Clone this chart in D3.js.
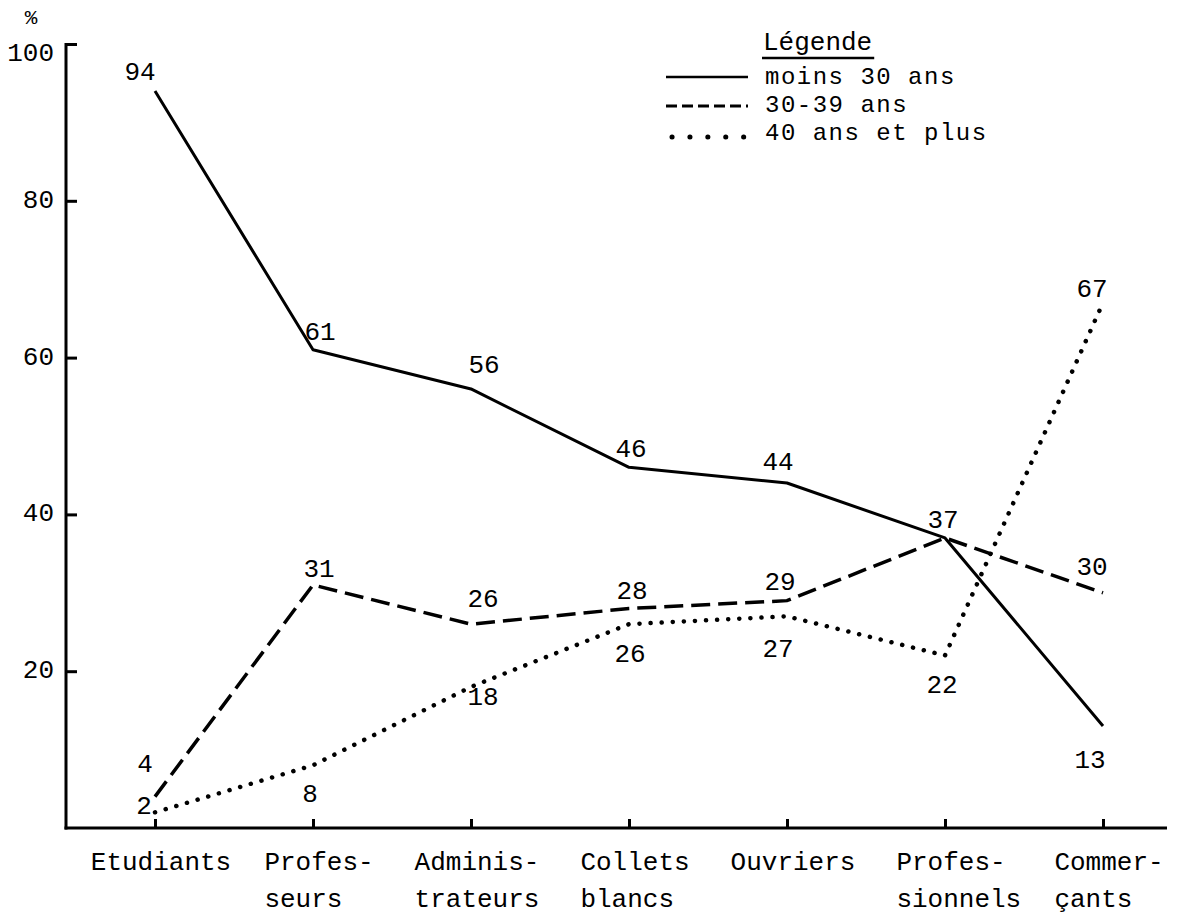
<!DOCTYPE html>
<html>
<head>
<meta charset="utf-8">
<script src="https://cdn.jsdelivr.net/npm/d3@7"></script>
<style>
  html, body { margin: 0; padding: 0; background: #ffffff; }
  svg text { font-family: "Liberation Mono", "Courier New", monospace; fill: #000; }
</style>
</head>
<body>
<svg id="chart" width="1179" height="920"></svg>
<script>
// ---- data ----
const categories = ["Etudiants", "Professeurs", "Administrateurs", "Collets blancs", "Ouvriers", "Professionnels", "Commerçants"];
const categoryLines = [["Etudiants"], ["Profes-", "seurs"], ["Adminis-", "trateurs"], ["Collets", "blancs"], ["Ouvriers"], ["Profes-", "sionnels"], ["Commer-", "çants"]];
const moins30 = [94, 61, 56, 46, 44, 37, 13];
const ans30_39 = [4, 31, 26, 28, 29, 37, 30];
const ans40plus = [2, 8, 18, 26, 27, 22, 67];
const yTicks = [20, 40, 60, 80, 100];
const seriesNames = ["moins 30 ans", "30-39 ans", "40 ans et plus"];

// label placement (offsets from each point, in px) — layout only
const labelOffMoins30 = [[-15, -11], [7, -10], [13, -16], [2, -10], [-9, -13], [-2, -10], [-13, 42]];
const labelOff30_39 = [[-10, -25], [6, -8], [12, -17], [3, -9], [-7, -11], null, [-11, -18]];
const labelOff40plus = [[-11, 2], [-3, 37], [12, 18], [1, 38], [-9, 41], [-3, 37], [-11, -6]];

// ---- setup ----
const svg = d3.select("#chart");
const FS = 26;
const x = d3.scalePoint().domain(categories).range([155, 1103]);
const y = d3.scaleLinear().domain([0, 100]).range([828, 44]);
const axisX0 = 66, axisXEnd = 1167;

// ---- Y axis ----
const yAxis = d3.axisLeft(y).tickValues(yTicks).tickSizeInner(-11).tickSizeOuter(0).tickPadding(12);
const gy = svg.append("g").attr("transform", `translate(${axisX0},0)`).call(yAxis);
gy.select(".domain").remove();
gy.selectAll(".tick line").attr("stroke", "#000").attr("stroke-width", 3);
gy.selectAll(".tick text").attr("font-size", FS).attr("font-family", "Liberation Mono, monospace").attr("fill", "#000")
  .attr("dy", d => d === 100 ? "0.65em" : "0.25em");
svg.append("line").attr("x1", axisX0).attr("x2", axisX0).attr("y1", y(100) - 1).attr("y2", y(0) + 1.5)
  .attr("stroke", "#000").attr("stroke-width", 3);
svg.append("text").attr("x", 31).attr("y", 24).attr("text-anchor", "middle").attr("font-size", FS - 5).text("%");

// ---- X axis ----
const xAxis = d3.axisBottom(x).tickSizeInner(-9).tickSizeOuter(0).tickFormat("");
const gx = svg.append("g").attr("transform", `translate(0,${y(0)})`).call(xAxis);
gx.select(".domain").remove();
gx.selectAll(".tick line").attr("stroke", "#000").attr("stroke-width", 3);
svg.append("line").attr("x1", axisX0 - 1.5).attr("x2", axisXEnd).attr("y1", y(0)).attr("y2", y(0))
  .attr("stroke", "#000").attr("stroke-width", 3);

// category labels: first line roughly centred on tick, second line left-aligned with first
categoryLines.forEach((lines, i) => {
  const t = svg.append("text").attr("font-size", FS).attr("y", 870);
  const first = t.append("tspan").text(lines[0]);
  const w = first.node().getComputedTextLength();
  const x0 = x(categories[i]) - w / 2 + 6;
  t.attr("x", x0);
  first.attr("x", x0);
  if (lines[1]) t.append("tspan").attr("x", x0).attr("dy", 37).text(lines[1]);
});

// ---- series lines ----
const line = d3.line().x((d, i) => x(categories[i])).y(d => y(d));
svg.append("path").datum(moins30).attr("d", line)
  .attr("fill", "none").attr("stroke", "#000").attr("stroke-width", 3).attr("stroke-linejoin", "round");
svg.append("path").datum(ans30_39).attr("d", line)
  .attr("fill", "none").attr("stroke", "#000").attr("stroke-width", 3.5).attr("stroke-dasharray", "19 8");
svg.append("path").datum(ans40plus).attr("d", line)
  .attr("fill", "none").attr("stroke", "#000").attr("stroke-width", 4.5)
  .attr("stroke-linecap", "round").attr("stroke-dasharray", "0.1 11");

// ---- value labels ----
function addLabels(values, offs) {
  values.forEach((v, i) => {
    if (!offs[i]) return;
    svg.append("text")
      .attr("x", x(categories[i]) + offs[i][0])
      .attr("y", y(v) + offs[i][1])
      .attr("text-anchor", "middle")
      .attr("font-size", FS)
      .text(v);
  });
}
addLabels(moins30, labelOffMoins30);
addLabels(ans30_39, labelOff30_39);
addLabels(ans40plus, labelOff40plus);

// ---- legend ----
const LFS = 24;
const lg = svg.append("g");
const leg = lg.append("text").attr("x", 763).attr("y", 50).attr("font-size", FS).text("Légende");
const lw = leg.node().getComputedTextLength();
lg.append("line").attr("x1", 762).attr("x2", 763 + lw + 2).attr("y1", 58).attr("y2", 58)
  .attr("stroke", "#000").attr("stroke-width", 2.5);

const legendRows = [
  { name: seriesNames[0], base: 84, ly: 77, dash: null, w: 2.5, cap: "butt", x1: 666 },
  { name: seriesNames[1], base: 112, ly: 106, dash: "11 5", w: 3, cap: "butt", x1: 666 },
  { name: seriesNames[2], base: 140, ly: 137, dash: "0.1 17.8", w: 5, cap: "round", x1: 672 }
];
legendRows.forEach(r => {
  const l = lg.append("line").attr("x1", r.x1).attr("x2", 748)
    .attr("y1", r.ly).attr("y2", r.ly)
    .attr("stroke", "#000").attr("stroke-width", r.w).attr("stroke-linecap", r.cap);
  if (r.dash) l.attr("stroke-dasharray", r.dash);
  lg.append("text").attr("x", 765).attr("y", r.base).attr("font-size", LFS)
    .attr("letter-spacing", "1.5px").text(r.name);
});
</script>
</body>
</html>
